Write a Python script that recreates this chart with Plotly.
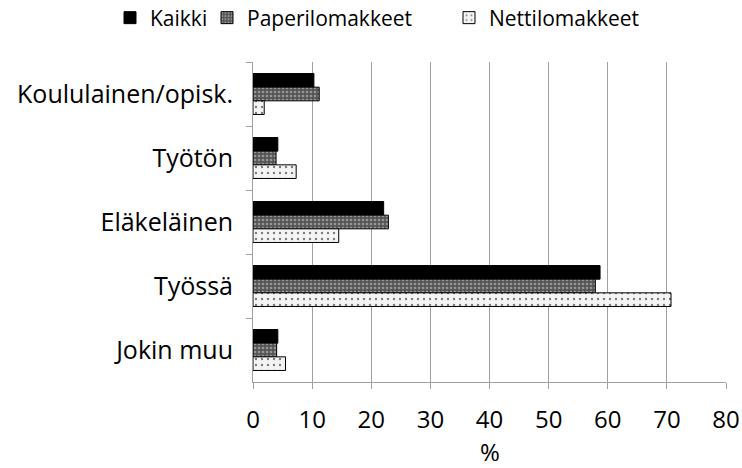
import plotly.graph_objects as go

categories = ["Koululainen/opisk.", "Työtön", "Eläkeläinen", "Työssä", "Jokin muu"]
kaikki = [10.3, 4.2, 22.1, 58.7, 4.2]
paperi = [11.2, 3.9, 22.9, 57.9, 4.0]
netti = [1.9, 7.3, 14.5, 70.7, 5.5]
x_ticks = [0, 10, 20, 30, 40, 50, 60, 70, 80]
x_title = "%"

font = "Open Sans, Liberation Sans, sans-serif"
FS = 24
W, H = 742, 468
T, B = 62, 86
PH = H - T - B

fig = go.Figure()
fig.add_trace(go.Bar(
    y=categories, x=kaikki, orientation="h", name="Kaikki", legend="legend",
    marker=dict(color="black", line=dict(color="black", width=1)),
))
fig.add_trace(go.Bar(
    y=categories, x=paperi, orientation="h", name="Paperilomakkeet", legend="legend2",
    marker=dict(color="#6a6a6a", line=dict(color="black", width=1),
                pattern=dict(shape=".", fgcolor="#d8d8d8", bgcolor="#555555", size=4, solidity=0.35)),
))
fig.add_trace(go.Bar(
    y=categories, x=netti, orientation="h", name="Nettilomakkeet", legend="legend3",
    marker=dict(color="white", line=dict(color="black", width=1),
                pattern=dict(shape=".", fgcolor="black", bgcolor="#f4f4f4", size=6, solidity=0.12)),
))

def leg(xpx):
    return dict(x=xpx / W, xanchor="left", y=1 - 18 / H, yanchor="middle",
                xref="container", yref="container", font=dict(size=21, family=font),
                bgcolor="rgba(0,0,0,0)", borderwidth=0)

fig.update_layout(
    width=W, height=H,
    barmode="group", bargap=0.36, bargroupgap=0,
    plot_bgcolor="white", paper_bgcolor="white",
    margin=dict(l=253, r=16, t=T, b=B, autoexpand=False),
    font=dict(family=font, size=FS, color="black"),
    legend=leg(110), legend2=leg(207), legend3=leg(449),
    showlegend=True,
    annotations=[dict(text=x_title, xref="paper", yref="paper", x=0.5, y=-(451 - (H - B)) / PH,
                      xanchor="center", yanchor="middle", showarrow=False, font=dict(size=FS))],
)
fig.update_xaxes(
    range=[0, 80], tickvals=x_ticks, showgrid=True, gridcolor="#a0a0a0", gridwidth=1,
    showline=True, linecolor="#a0a0a0", ticks="outside", ticklen=6, tickcolor="#a0a0a0",
    ticklabelstandoff=10, zeroline=False,
)
fig.update_yaxes(
    autorange="reversed", showline=True, linecolor="#a0a0a0", ticks="outside",
    tickson="boundaries", ticklen=6, tickcolor="#a0a0a0", ticklabelstandoff=14,
    tickfont=dict(size=25),
)

fig.write_html("out.html", config={"displayModeBar": False},
               post_script="document.body.style.margin='0px';document.body.style.overflow='hidden';")
